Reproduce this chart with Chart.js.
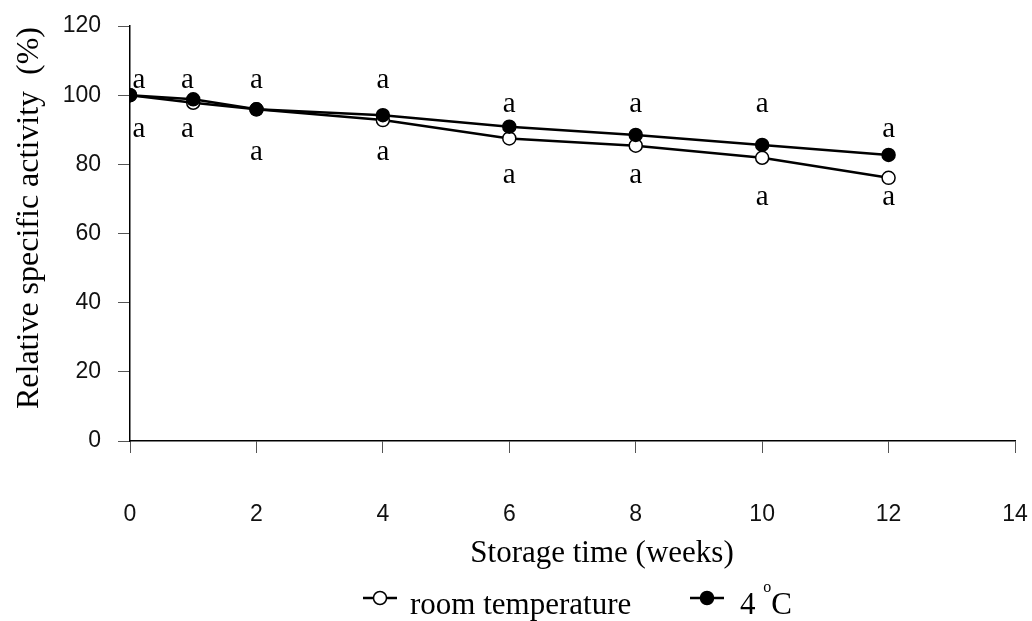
<!DOCTYPE html>
<html>
<head>
<meta charset="utf-8">
<script src="https://cdn.jsdelivr.net/npm/chart.js@4.4.1/dist/chart.umd.min.js"></script>
<style>
  html, body { margin: 0; padding: 0; background: #ffffff; }
  #wrap { width: 1032px; height: 621px; }
</style>
</head>
<body>
<div id="wrap"><canvas id="chart" width="1032" height="621"></canvas></div>
<script>
// Storage time in weeks
const weeks = [0, 1, 2, 4, 6, 8, 10, 12];
// Relative specific activity (%) for each storage condition
const roomTemp = [100, 97.8, 95.9, 92.8, 87.5, 85.4, 81.9, 76.1];
const cold4C   = [100, 98.8, 95.9, 94.2, 90.9, 88.5, 85.6, 82.7];

// Axis tick values
const xTickValues = [0, 2, 4, 6, 8, 10, 12, 14];
const yTickValues = [0, 20, 40, 60, 80, 100, 120];

// Significance letters: upper row belongs to 4 °C, lower row to room temperature
const upperLetters = ['a', 'a', 'a', 'a', 'a', 'a', 'a', 'a'];
const lowerLetters = ['a', 'a', 'a', 'a', 'a', 'a', 'a', 'a'];
// where each letter sits, in axis units
const letterX      = [0.14, 0.91, 2, 4, 6, 8, 10, 12];
const upperLetterY = [102, 102, 102, 102, 95, 95, 95, 88];
const lowerLetterY = [88, 88, 81.3, 81.3, 74.5, 74.5, 68.2, 68.2];

const SERIF = '"Liberation Serif", "Times New Roman", serif';
const SANS = '"Liberation Sans", Arial, sans-serif';

const toPoints = (xs, ys) => xs.map((v, i) => ({ x: v, y: ys[i] }));

const letterPlugin = {
  id: 'letters',
  afterDatasetsDraw(chart) {
    const { ctx, scales: { x, y } } = chart;
    ctx.save();
    ctx.font = '29px ' + SERIF;
    ctx.fillStyle = '#000';
    ctx.textAlign = 'center';
    ctx.textBaseline = 'alphabetic';
    letterX.forEach((wx, i) => {
      const px = x.getPixelForValue(wx);
      ctx.fillText(upperLetters[i], px, y.getPixelForValue(upperLetterY[i]));
      ctx.fillText(lowerLetters[i], px, y.getPixelForValue(lowerLetterY[i]));
    });
    ctx.restore();
  }
};

const titlesAndLegend = {
  id: 'titlesAndLegend',
  afterDraw(chart) {
    const { ctx } = chart;
    ctx.save();
    ctx.fillStyle = '#000';

    // y-axis title
    ctx.save();
    ctx.translate(38, 218);
    ctx.rotate(-Math.PI / 2);
    ctx.font = '32px ' + SERIF;
    ctx.textAlign = 'center';
    ctx.textBaseline = 'alphabetic';
    ctx.fillText('Relative specific activity  (%)', 0, 0);
    ctx.restore();

    // x-axis title
    ctx.font = '31px ' + SERIF;
    ctx.textAlign = 'center';
    ctx.textBaseline = 'alphabetic';
    ctx.fillText('Storage time (weeks)', 602, 562);

    // legend
    const ds = chart.data.datasets;
    const drawKey = (d, cx, cy) => {
      ctx.strokeStyle = d.borderColor;
      ctx.lineWidth = d.borderWidth;
      ctx.beginPath();
      ctx.moveTo(cx - 17, cy);
      ctx.lineTo(cx + 17, cy);
      ctx.stroke();
      ctx.beginPath();
      ctx.arc(cx, cy, d.pointRadius, 0, Math.PI * 2);
      ctx.fillStyle = d.pointBackgroundColor;
      ctx.fill();
      ctx.lineWidth = d.pointBorderWidth;
      ctx.strokeStyle = d.pointBorderColor;
      ctx.stroke();
    };
    drawKey(ds[0], 380, 598);
    drawKey(ds[1], 707, 598);

    ctx.fillStyle = '#000';
    ctx.textAlign = 'left';
    ctx.font = '31px ' + SERIF;
    ctx.fillText(ds[0].label, 410, 614);

    // "4 °C" with a raised small o
    let tx = 740;
    ctx.fillText('4 ', tx, 614);
    tx += ctx.measureText('4 ').width;
    ctx.font = '16px ' + SERIF;
    ctx.fillText('o', tx, 592);
    tx += ctx.measureText('o').width;
    ctx.font = '31px ' + SERIF;
    ctx.fillText('C', tx, 614);
    ctx.restore();
  }
};

const axisCommon = {
  type: 'linear',
  border: { display: true, color: '#000', width: 1.5 },
  grid: {
    display: true,
    drawOnChartArea: false,
    drawTicks: true,
    tickLength: 12,
    tickColor: '#555',
    tickWidth: 1
  }
};

new Chart(document.getElementById('chart'), {
  type: 'line',
  data: {
    datasets: [
      {
        label: 'room temperature',
        data: toPoints(weeks, roomTemp),
        borderColor: '#000',
        borderWidth: 2.5,
        pointRadius: 6.5,
        pointBackgroundColor: '#fff',
        pointBorderColor: '#000',
        pointBorderWidth: 1.5,
        tension: 0,
        order: 2
      },
      {
        label: '4 °C',
        data: toPoints(weeks, cold4C),
        borderColor: '#000',
        borderWidth: 2.5,
        pointRadius: 6.5,
        pointBackgroundColor: '#000',
        pointBorderColor: '#000',
        pointBorderWidth: 1.5,
        tension: 0,
        order: 1
      }
    ]
  },
  options: {
    responsive: false,
    animation: false,
    devicePixelRatio: 1,
    layout: { autoPadding: false, padding: { top: 26, right: 17, bottom: 0, left: 0 } },
    plugins: {
      legend: { display: false },
      tooltip: { enabled: false }
    },
    scales: {
      x: {
        ...axisCommon,
        min: xTickValues[0],
        max: xTickValues[xTickValues.length - 1],
        afterBuildTicks: (s) => { s.ticks = xTickValues.map(v => ({ value: v })); },
        afterFit: (s) => { s.height = 180; s.paddingLeft = 0; s.paddingRight = 0; },
        ticks: {
          padding: 48,
          color: '#111',
          font: { family: SANS, size: 23 },
          maxRotation: 0,
          autoSkip: false
        }
      },
      y: {
        ...axisCommon,
        min: yTickValues[0],
        max: yTickValues[yTickValues.length - 1],
        afterBuildTicks: (s) => { s.ticks = yTickValues.map(v => ({ value: v })); },
        afterFit: (s) => { s.width = 130; s.paddingTop = 0; s.paddingBottom = 0; },
        ticks: {
          padding: 17,
          color: '#111',
          font: { family: SANS, size: 23 }
        }
      }
    }
  },
  plugins: [letterPlugin, titlesAndLegend]
});
</script>
</body>
</html>
